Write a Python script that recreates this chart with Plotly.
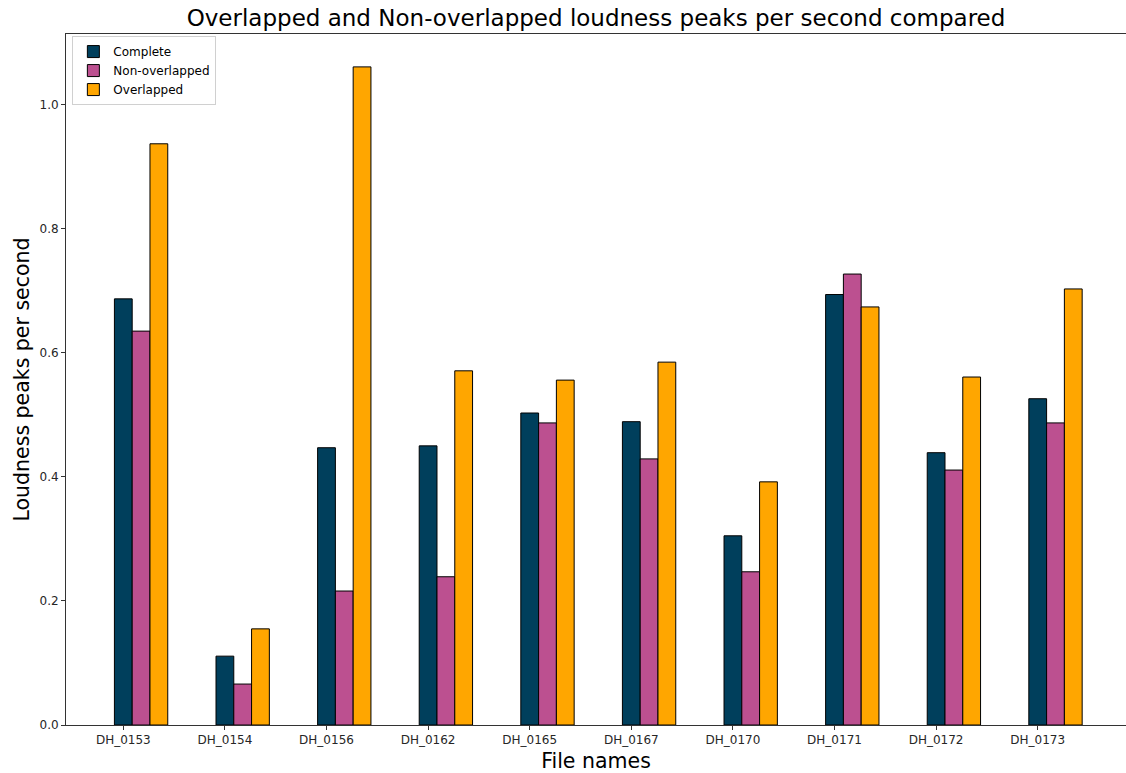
import plotly.graph_objects as go

files = ["DH_0153", "DH_0154", "DH_0156", "DH_0162", "DH_0165",
         "DH_0167", "DH_0170", "DH_0171", "DH_0172", "DH_0173"]
complete = [0.687, 0.111, 0.447, 0.450, 0.503, 0.489, 0.305, 0.694, 0.439, 0.526]
non_overlapped = [0.635, 0.066, 0.216, 0.239, 0.487, 0.429, 0.247, 0.727, 0.411, 0.487]
overlapped = [0.937, 0.155, 1.061, 0.571, 0.556, 0.585, 0.392, 0.674, 0.561, 0.703]

series = [("Complete", complete, "#003f5c"),
          ("Non-overlapped", non_overlapped, "#bc5090"),
          ("Overlapped", overlapped, "#ffa600")]

W = 0.175
fig = go.Figure()
for k, (name, vals, col) in enumerate(series):
    fig.add_trace(go.Bar(
        x=files, y=vals, name=name,
        width=W, offset=-W / 2 + k * W,
        marker=dict(color=col, line=dict(color="black", width=1)),
    ))

font = "DejaVu Sans, sans-serif"
fig.update_layout(
    width=1126, height=773,
    margin=dict(l=66, r=0, t=34, b=48),
    paper_bgcolor="white", plot_bgcolor="white",
    barmode="overlay",
    font=dict(family=font, color="#262626"),
    title=dict(text="Overlapped and Non-overlapped loudness peaks per second compared",
               x=0.5, xref="paper", xanchor="center", y=1 - 18 / 773, yanchor="middle",
               font=dict(size=23, color="black", family=font)),
    xaxis=dict(range=[-0.564, 9.869], showline=True, linecolor="#333", linewidth=1,
               mirror=True, ticks="outside", ticklen=4, tickcolor="#333",
               tickfont=dict(size=12), showgrid=False, zeroline=False,
               title=dict(text="File names", font=dict(size=20.5, color="black"), standoff=7)),
    yaxis=dict(range=[0, 1.114], showline=True, linecolor="#333", linewidth=1,
               ticks="outside", ticklen=4, tickcolor="#333", tickvals=[0, 0.2, 0.4, 0.6, 0.8, 1.0],
               ticktext=["0.0", "0.2", "0.4", "0.6", "0.8", "1.0"],
               tickfont=dict(size=12), showgrid=False, zeroline=False,
               title=dict(text="Loudness peaks per second", font=dict(size=20.5, color="black"), standoff=4)),
    legend=dict(x=0.006, y=0.997, xanchor="left", yanchor="top",
                bgcolor="rgba(255,255,255,0.8)", bordercolor="#d0d0d0", borderwidth=1,
                font=dict(size=12, color="black"), tracegroupgap=0),
)

fig.write_html("out.html")
